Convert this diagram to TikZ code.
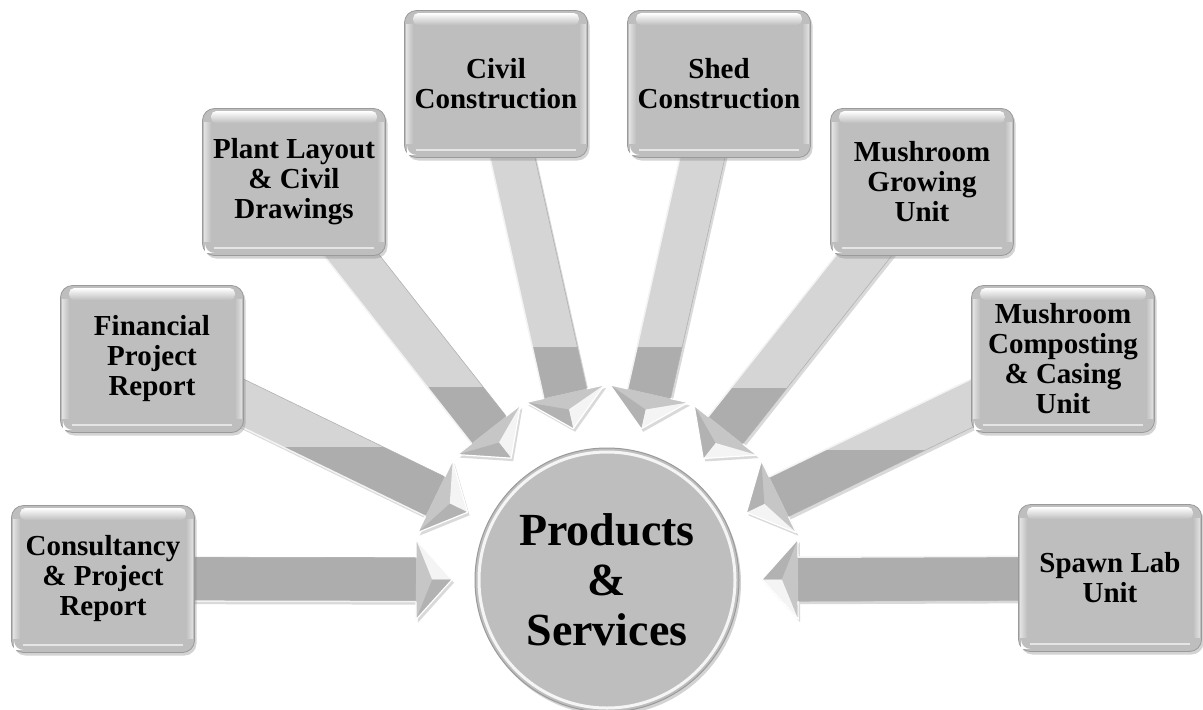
\documentclass[tikz,border=0pt]{standalone}
\usepackage{fontspec}
\setmainfont{Liberation Serif}
\usetikzlibrary{calc,shadows}
\pgfdeclarelayer{bg}
\pgfsetlayers{bg,main}
\definecolor{boxgray}{HTML}{BEBEBE}
\definecolor{boxedge}{HTML}{9A9A9A}
\definecolor{shaftlight}{HTML}{D5D5D5}
\definecolor{shaftdark}{HTML}{ADADAD}
\definecolor{headgray}{HTML}{C6C6C6}
\tikzset{
  box/.style={rectangle, rounded corners=12pt, minimum width=183pt, minimum height=147pt,
    fill=boxgray, draw=boxedge, line width=0.8pt, align=center, inner sep=1pt,
    font=\fontsize{29}{30}\selectfont\bfseries,
    drop shadow={shadow xshift=2pt, shadow yshift=-3pt, opacity=.35}},
  hub/.style={circle, minimum size=264pt, fill=boxgray, draw=boxedge, line width=1pt,
    align=center, font=\fontsize{46}{50}\selectfont\bfseries,
    drop shadow={shadow xshift=2pt, shadow yshift=-3pt, opacity=.35}},
  arrowshadow/.style={black, opacity=.15, transform canvas={shift={(2pt,-3pt)}}},
}
\newcommand{\gloss}[1]{%
  \shade[top color=white, bottom color=boxgray, rounded corners=5pt]
    ([xshift=9pt,yshift=-3pt]#1.north west) rectangle ([xshift=-9pt,yshift=-15pt]#1.north east);
  \shade[left color=white!55!boxgray, right color=boxgray]
    ([xshift=2pt,yshift=-14pt]#1.north west) rectangle ([xshift=9pt,yshift=14pt]#1.south west);
  \shade[right color=white!55!boxgray, left color=boxgray]
    ([xshift=-9pt,yshift=-14pt]#1.north east) rectangle ([xshift=-2pt,yshift=14pt]#1.south east);
  \draw[white!60!boxgray, line width=1.5pt]
    ([xshift=12pt,yshift=8pt]#1.south west) -- ([xshift=-12pt,yshift=8pt]#1.south east);
  \fill[white] ([xshift=3pt,yshift=3pt]#1.south west) -- ([xshift=3pt,yshift=12pt]#1.south west)
    arc[start angle=180,end angle=270,radius=9pt] -- cycle;
}
\newcommand{\blockarrow}[3]{%
  \coordinate (ba) at ($(#2.center)!36pt!(#1.center)$);
  \coordinate (s1) at ($(#1.center)!22pt!90:(#2.center)$);
  \coordinate (s2) at ($(ba)!22pt!90:(#2.center)$);
  \coordinate (h1) at ($(ba)!40pt!90:(#2.center)$);
  \coordinate (h2) at ($(ba)!40pt!-90:(#2.center)$);
  \coordinate (s3) at ($(ba)!22pt!-90:(#2.center)$);
  \coordinate (s4) at ($(#1.center)!22pt!-90:(#2.center)$);
  \coordinate (hm) at ($(ba)!0.45!(#2.center)$);
  \fill[arrowshadow] (s1) -- (s2) -- (h1) -- (#2.center) -- (h2) -- (s3) -- (s4) -- cycle;
  \begin{scope}
    \clip (s1) -- (s2) -- (s3) -- (s4) -- cycle;
    \fill[shaftlight] (-50,-50) rectangle (1300,800);
    \fill[shaftdark] (-50,#3) rectangle (1300,800);
  \end{scope}
  \draw[white!70!shaftlight, line width=1.5pt] (s4) -- (s3);
  \draw[black!30, line width=0.6pt] (s1) -- (s2);
  \fill[headgray] (s2) -- (h1) -- (#2.center) -- (h2) -- (s3) -- cycle;
  \fill[white!80!headgray] (h1) -- (#2.center) -- (hm) -- cycle;
  \fill[black!10!headgray] (h2) -- (#2.center) -- (hm) -- cycle;
  \draw[white, line width=1.2pt, line join=round] (s2) -- (h1) -- (#2.center) -- (h2) -- (s3);
}
\begin{document}
\begin{tikzpicture}[x=1pt, y=-1pt]
\useasboundingbox (0,0) rectangle (1203,710);

\node[hub] (hub) at (607,580) {Products\\\&\\Services};
\draw[white, line width=3pt, opacity=.85] (hub.center) circle[radius=128pt];

\node[box] (cons)  at (103,579)  {Consultancy\\\& Project\\Report};
\node[box] (fin)   at (152,359)  {Financial\\Project\\Report};
\node[box] (plant) at (294,182)  {Plant Layout\\\& Civil\\Drawings};
\node[box] (civil) at (496,84)   {Civil\\Construction};
\node[box] (shed)  at (719,84)   {Shed\\Construction};
\node[box] (grow)  at (922,182)  {Mushroom\\Growing\\Unit};
\node[box] (comp)  at (1063,359) {Mushroom\\Composting\\\& Casing\\Unit};
\node[box] (spawn) at (1110,578) {Spawn Lab\\Unit};

\foreach \b in {cons,fin,plant,civil,shed,grow,comp,spawn}{\gloss{\b}}

\foreach \b in {cons,fin,plant,civil,shed,grow,comp,spawn}{
  \coordinate (t-\b) at ($(hub.center)!155pt!(\b.center)$);
}

\begin{pgfonlayer}{bg}
  \blockarrow{cons}{t-cons}{0}
  \blockarrow{fin}{t-fin}{447}
  \blockarrow{plant}{t-plant}{387}
  \blockarrow{civil}{t-civil}{347}
  \blockarrow{shed}{t-shed}{347}
  \blockarrow{grow}{t-grow}{388}
  \blockarrow{comp}{t-comp}{450}
  \blockarrow{spawn}{t-spawn}{0}
\end{pgfonlayer}
\end{tikzpicture}
\end{document}
